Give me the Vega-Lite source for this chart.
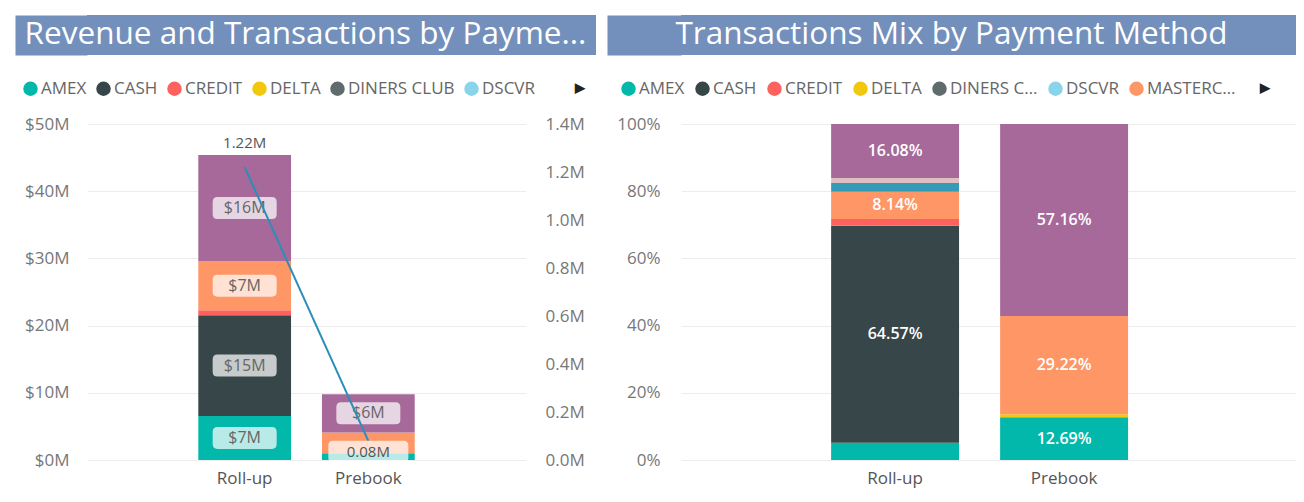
{
  "$schema": "https://vega.github.io/schema/vega-lite/v6.json",
  "background": "white",
  "padding": {"left": 15, "top": 15, "right": 5, "bottom": 10},
  "config": {
    "font": "Open Sans",
    "view": {"stroke": null},
    "axis": {"domain": false, "ticks": false, "title": null, "labelFontSize": 17, "labelColor": "#777", "gridColor": "#ececec"},
    "legend": {"labelFontSize": 17, "labelColor": "#666", "symbolType": "circle", "symbolSize": 210, "symbolStrokeWidth": 0, "columnPadding": 8, "labelOffset": 2}
  },
  "datasets": {
    "revenue": [
      {"type": "Roll-up", "method": "AMEX", "revenue": 6.55},
      {"type": "Roll-up", "method": "CASH", "revenue": 15.0},
      {"type": "Roll-up", "method": "CREDIT", "revenue": 0.74},
      {"type": "Roll-up", "method": "MASTERCARD", "revenue": 7.3},
      {"type": "Roll-up", "method": "VISA", "revenue": 15.8},
      {"type": "Prebook", "method": "AMEX", "revenue": 1.0},
      {"type": "Prebook", "method": "MASTERCARD", "revenue": 3.1},
      {"type": "Prebook", "method": "VISA", "revenue": 5.7}
    ],
    "totals": [
      {"type": "Roll-up", "transactions": 1.22},
      {"type": "Prebook", "transactions": 0.08}
    ],
    "mix": [
      {"type": "Roll-up", "method": "AMEX", "share": 0.0512},
      {"type": "Roll-up", "method": "CASH", "share": 0.6457},
      {"type": "Roll-up", "method": "CREDIT", "share": 0.02},
      {"type": "Roll-up", "method": "MASTERCARD", "share": 0.0814},
      {"type": "Roll-up", "method": "SOLO", "share": 0.026},
      {"type": "Roll-up", "method": "SWITCH", "share": 0.0149},
      {"type": "Roll-up", "method": "VISA", "share": 0.1608},
      {"type": "Prebook", "method": "AMEX", "share": 0.1269},
      {"type": "Prebook", "method": "DELTA", "share": 0.0093},
      {"type": "Prebook", "method": "MASTERCARD", "share": 0.2922},
      {"type": "Prebook", "method": "VISA", "share": 0.5716}
    ]
  },
  "resolve": {"scale": {"color": "independent"}, "legend": {"color": "independent"}},
  "columns": 2,
  "align": "each",
  "spacing": {"row": 25, "column": 11},
  "concat": [
    {
      "width": 509,
      "height": 40,
      "view": {"fill": "#7390BC", "stroke": null},
      "data": {"values": [{"t": "Revenue and Transactions by Payme..."}]},
      "mark": {"type": "text", "color": "white", "fontSize": 31.5, "font": "Open Sans", "dx": -36},
      "encoding": {
        "text": {"field": "t", "type": "nominal"},
        "y": {"datum": 0.5, "type": "quantitative", "scale": {"domain": [0, 1]}, "axis": {"labels": false, "grid": false, "domain": true, "domainColor": "#7390BC", "domainWidth": 72, "offset": 36, "minExtent": 0}}
      }
    },
    {
      "width": 615,
      "height": 40,
      "view": {"fill": "#7390BC", "stroke": null},
      "data": {"values": [{"t": "Transactions Mix by Payment Method"}]},
      "mark": {"type": "text", "color": "white", "fontSize": 31.5, "font": "Open Sans", "dx": -37},
      "encoding": {
        "text": {"field": "t", "type": "nominal"},
        "y": {"datum": 0.5, "type": "quantitative", "scale": {"domain": [0, 1]}, "axis": {"labels": false, "grid": false, "domain": true, "domainColor": "#7390BC", "domainWidth": 74, "offset": 37, "minExtent": 0}}
      }
    },
    {
      "width": 439,
      "height": 336,
      "resolve": {"scale": {"y": "independent"}},
      "layer": [
        {
          "data": {"name": "revenue"},
          "encoding": {
            "x": {"field": "type", "type": "nominal", "sort": ["Roll-up", "Prebook"], "scale": {"paddingInner": 0.25, "paddingOuter": 0.9}, "axis": {"labelAngle": 0, "labelPadding": 10, "labelColor": "#555"}},
            "y": {"field": "revenue", "type": "quantitative", "stack": "zero", "scale": {"domain": [0, 50], "nice": false}, "axis": {"orient": "left", "values": [0, 10, 20, 30, 40, 50], "labelExpr": "'$' + datum.value + 'M'", "grid": true, "labelPadding": 18, "minExtent": 72}},
            "order": {"field": "method", "type": "ordinal", "sort": "ascending"}
          },
          "layer": [
            {
              "mark": {"type": "bar"},
              "encoding": {
                "color": {
                  "field": "method", "type": "nominal",
                  "scale": {"domain": ["AMEX", "CASH", "CREDIT", "DELTA", "DINERS CLUB", "DSCVR", "MASTERCARD", "SOLO", "SWITCH", "VISA"], "range": ["#01B8AA", "#374649", "#FD625E", "#F2C80F", "#5F6B6D", "#8AD4EB", "#FE9666", "#3599B8", "#DFBFBF", "#A66999"]},
                  "legend": {"orient": "none", "legendX": -65, "legendY": -44, "direction": "horizontal", "values": ["AMEX", "CASH", "CREDIT", "DELTA", "DINERS CLUB", "DSCVR"], "title": "▶", "titleOrient": "right", "titleFontSize": 13, "titleColor": "#222", "titlePadding": 40}
                }
              }
            },
            {
              "mark": {"type": "point", "shape": "M-0.85,-0.344 L0.85,-0.344 Q1,-0.344 1,-0.19 L1,0.19 Q1,0.344 0.85,0.344 L-0.85,0.344 Q-1,0.344 -1,0.19 L-1,-0.19 Q-1,-0.344 -0.85,-0.344 Z", "filled": true, "size": 4096, "color": "white", "strokeWidth": 0},
              "encoding": {
                "y": {"field": "revenue", "type": "quantitative", "stack": "zero", "bandPosition": 0.5},
                "detail": {"field": "method", "type": "nominal"},
                "opacity": {"condition": {"test": "datum.revenue >= 5", "value": 0.72}, "value": 0}
              }
            },
            {
              "mark": {"type": "text", "fontSize": 16, "color": "#666", "text": {"expr": "'$' + format(datum.revenue, '.0f') + 'M'"}},
              "encoding": {
                "y": {"field": "revenue", "type": "quantitative", "stack": "zero", "bandPosition": 0.5},
                "detail": {"field": "method", "type": "nominal"},
                "opacity": {"condition": {"test": "datum.revenue >= 5", "value": 1}, "value": 0}
              }
            }
          ]
        },
        {
          "data": {"name": "totals"},
          "encoding": {
            "x": {"field": "type", "type": "nominal", "sort": ["Roll-up", "Prebook"]},
            "y": {"field": "transactions", "type": "quantitative", "scale": {"domain": [0, 1.4], "nice": false}, "axis": {"orient": "right", "values": [0, 0.2, 0.4, 0.6, 0.8, 1.0, 1.2, 1.4], "labelExpr": "format(datum.value, '.1f') + 'M'", "grid": false, "labelPadding": 19, "minExtent": 70}}
          },
          "layer": [
            {"mark": {"type": "line", "color": "#2C8EB8", "strokeWidth": 2}},
            {
              "mark": {"type": "point", "shape": "M-0.88,-0.275 L0.88,-0.275 Q1,-0.275 1,-0.155 L1,0.155 Q1,0.275 0.88,0.275 L-0.88,0.275 Q-1,0.275 -1,0.155 L-1,-0.155 Q-1,-0.275 -0.88,-0.275 Z", "filled": true, "size": 6400, "color": "white", "strokeWidth": 0, "yOffset": 11},
              "encoding": {"opacity": {"condition": {"test": "datum.type === 'Prebook'", "value": 0.72}, "value": 0}}
            },
            {
              "mark": {"type": "text", "fontSize": 15, "color": "#555", "text": {"expr": "format(datum.transactions, '.2f') + 'M'"}, "yOffset": {"expr": "datum.type === 'Roll-up' ? -24 : 11"}}
            }
          ]
        }
      ]
    },
    {
      "width": 615,
      "height": 336,
      "data": {"name": "mix"},
      "encoding": {
        "x": {"field": "type", "type": "nominal", "sort": ["Roll-up", "Prebook"], "scale": {"paddingInner": 0.243, "paddingOuter": 0.941, "align": 0.472}, "axis": {"labelAngle": 0, "labelPadding": 10, "labelColor": "#555"}},
        "y": {"field": "share", "type": "quantitative", "stack": "zero", "scale": {"domain": [0, 1], "nice": false}, "axis": {"format": ".0%", "values": [0, 0.2, 0.4, 0.6, 0.8, 1], "grid": true, "labelPadding": 21, "minExtent": 74}},
        "order": {"field": "method", "type": "ordinal", "sort": "ascending"}
      },
      "layer": [
        {
          "mark": {"type": "bar"},
          "encoding": {
            "color": {
              "field": "method", "type": "nominal",
              "scale": {"domain": ["AMEX", "CASH", "CREDIT", "DELTA", "DINERS CLUB", "DSCVR", "MASTERCARD", "SOLO", "SWITCH", "VISA"], "range": ["#01B8AA", "#374649", "#FD625E", "#F2C80F", "#5F6B6D", "#8AD4EB", "#FE9666", "#3599B8", "#DFBFBF", "#A66999"]},
              "legend": {"orient": "none", "legendX": -61, "legendY": -44, "direction": "horizontal", "values": ["AMEX", "CASH", "CREDIT", "DELTA", "DINERS CLUB", "DSCVR", "MASTERCARD"], "labelLimit": 92, "columnPadding": 9, "title": "▶", "titleOrient": "right", "titleFontSize": 13, "titleColor": "#222", "titlePadding": 24}
            }
          }
        },
        {
          "mark": {"type": "text", "color": "white", "fontSize": 16, "fontWeight": 600},
          "encoding": {
            "y": {"field": "share", "type": "quantitative", "stack": "zero", "bandPosition": 0.5},
            "detail": {"field": "method", "type": "nominal"},
            "text": {"field": "share", "type": "quantitative", "format": ".2%"},
            "opacity": {"condition": {"test": "datum.share >= 0.08", "value": 1}, "value": 0}
          }
        }
      ]
    }
  ]
}
